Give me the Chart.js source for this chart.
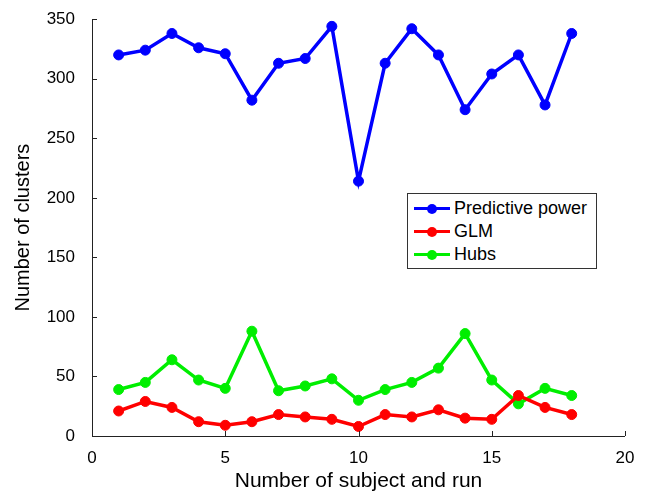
<!DOCTYPE html>
<html>
<head>
<meta charset="utf-8">
<script src="https://cdn.jsdelivr.net/npm/chart.js@4.4.0/dist/chart.umd.min.js"></script>
<style>
  html, body { margin: 0; padding: 0; background: #fff; }
  #wrap { position: relative; width: 651px; height: 498px; }
  #legend {
    position: absolute; left: 407px; top: 193px; width: 190px; height: 76px;
    border: 1px solid #333; background: #fff; box-sizing: border-box;
    font-family: "Liberation Sans", Arial, sans-serif; font-size: 18px; color: #000;
    padding-top: 3px;
  }
  .row { display: flex; align-items: center; height: 23px; }
  .sw { position: relative; width: 36px; height: 10px; margin-left: 6px; margin-right: 4px; }
  .sw .ln { position: absolute; left: 0; right: 0; top: 3.5px; height: 3px; }
  .sw .dt { position: absolute; left: 13px; top: 0; width: 10px; height: 10px; border-radius: 50%; }
</style>
</head>
<body>
<div id="wrap">
  <canvas id="chart" width="651" height="498"></canvas>
  <div id="legend"></div>
</div>
<script>
// x positions: subject/run index
const runs = [1, 2, 3, 4, 5, 6, 7, 8, 9, 10, 11, 12, 13, 14, 15, 16, 17, 18];

const predictivePower = [320, 324, 338, 326, 321, 282, 313, 317, 344, 214, 313, 342, 320, 274, 304, 320, 278, 338];
const glm = [21, 29, 24, 12, 9, 12, 18, 16, 14, 8, 18, 16, 22, 15, 14, 34, 24, 18];
const hubs = [39, 45, 64, 47, 40, 88, 38, 42, 48, 30, 39, 45, 57, 86, 47, 27, 40, 34];

const xTicks = [0, 5, 10, 15, 20];
const yTicks = [0, 50, 100, 150, 200, 250, 300, 350];

const seriesNames = ["Predictive power", "GLM", "Hubs"];
const seriesColors = ["#0000ff", "#ff0000", "#00ee00"];

const font = "'Liberation Sans', Arial, sans-serif";

function toPoints(vals) {
    return vals.map((v, i) => ({ x: runs[i], y: v }));
}

const datasets = [predictivePower, glm, hubs].map((vals, i) => ({
    label: seriesNames[i],
    data: toPoints(vals),
    borderColor: seriesColors[i],
    backgroundColor: seriesColors[i],
    pointBackgroundColor: seriesColors[i],
    borderWidth: 3.5,
    pointRadius: 5,
    pointBorderWidth: 1,
    tension: 0,
    fill: false,
}));

// small inward ticks like the original plot
const innerTicks = {
    id: "innerTicks",
    afterDraw(chart) {
        const ctx = chart.ctx;
        const xs = chart.scales.x, ys = chart.scales.y;
        const area = chart.chartArea;
        ctx.save();
        ctx.strokeStyle = "#222";
        ctx.lineWidth = 1;
        ctx.beginPath();
        ctx.moveTo(area.left + 0.5, area.top);
        ctx.lineTo(area.left + 0.5, area.bottom + 0.5);
        ctx.lineTo(area.right, area.bottom + 0.5);
        xTicks.forEach(t => {
            const px = Math.round(xs.getPixelForValue(t)) + 0.5;
            ctx.moveTo(px, area.bottom);
            ctx.lineTo(px, area.bottom - 5);
        });
        yTicks.forEach(t => {
            const py = Math.round(ys.getPixelForValue(t)) + 0.5;
            ctx.moveTo(area.left, py);
            ctx.lineTo(area.left + 5, py);
        });
        ctx.stroke();
        ctx.restore();
    }
};

new Chart(document.getElementById("chart"), {
    type: "line",
    data: { datasets },
    options: {
        responsive: false,
        animation: false,
        layout: { padding: { top: 16, right: 26, left: 0, bottom: 0 } },
        plugins: {
            legend: { display: false },
            tooltip: { enabled: false },
        },
        scales: {
            x: {
                type: "linear",
                min: 0, max: 20,
                afterBuildTicks: (s) => { s.ticks = xTicks.map(v => ({ value: v })); },
                afterFit: (s) => { s.height = 62; },
                border: { display: false },
                grid: { display: false },
                ticks: { color: "#000", font: { family: font, size: 17 }, padding: 4, maxRotation: 0 },
                title: { display: true, text: "Number of subject and run", color: "#000",
                         font: { family: font, size: 21 }, padding: { top: 2 } },
            },
            y: {
                min: 0, max: 350,
                afterBuildTicks: (s) => { s.ticks = yTicks.map(v => ({ value: v })); },
                afterFit: (s) => { s.width = 92; },
                border: { display: false },
                grid: { display: false },
                ticks: { color: "#000", font: { family: font, size: 17 }, padding: 9 },
                title: { display: true, text: "Number of clusters", color: "#000",
                         font: { family: font, size: 20 }, padding: { top: 11 } },
            },
        },
    },
    plugins: [innerTicks],
});

// legend box
const legend = document.getElementById("legend");
seriesNames.forEach((name, i) => {
    const row = document.createElement("div");
    row.className = "row";
    row.innerHTML = `<span class="sw"><span class="ln" style="background:${seriesColors[i]}"></span>` +
        `<span class="dt" style="background:${seriesColors[i]}"></span></span><span>${name}</span>`;
    legend.appendChild(row);
});
</script>
</body>
</html>
